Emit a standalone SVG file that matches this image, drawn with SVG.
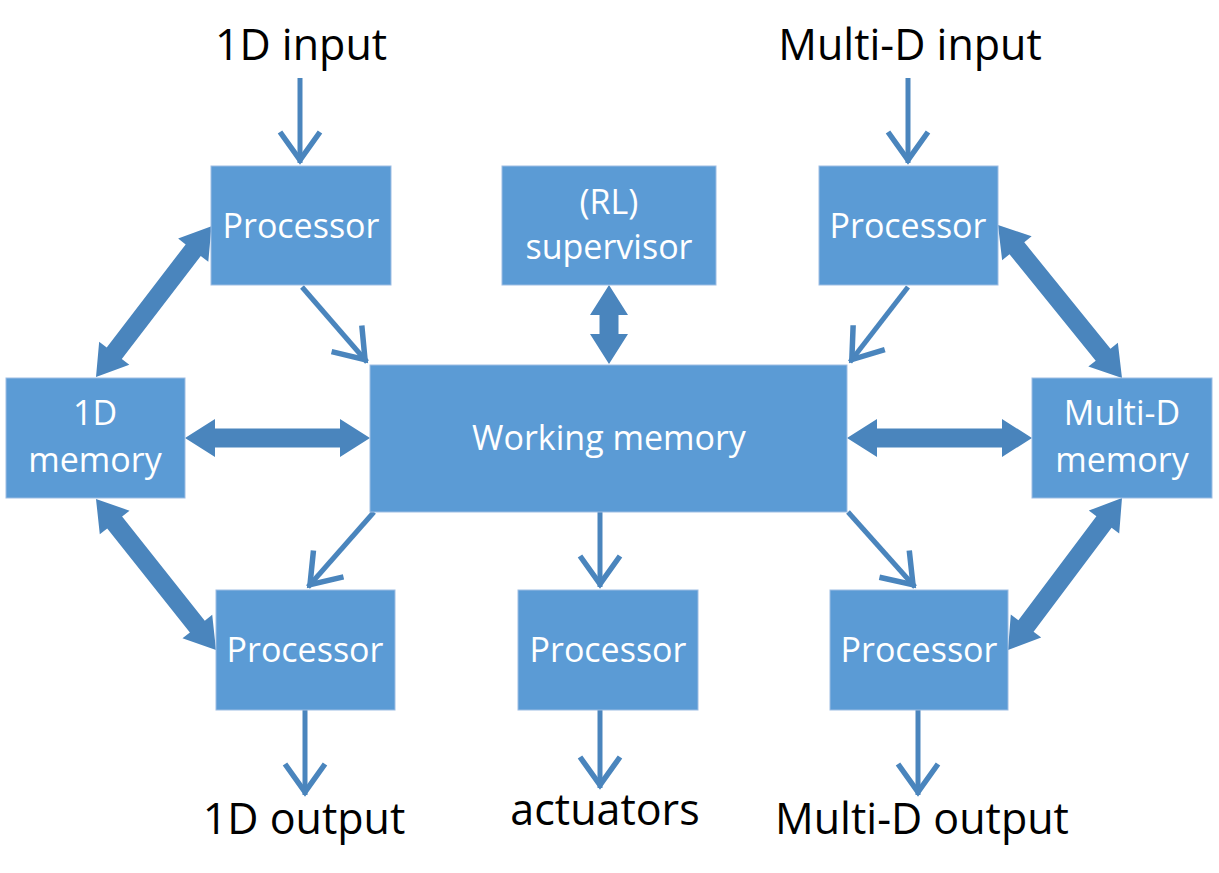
<svg xmlns="http://www.w3.org/2000/svg" width="1219" height="873" viewBox="0 0 1219 873">
<style>
.box{fill:#5B9BD5;stroke:#9DBDE3;stroke-width:1}
.bt{font-family:"Open Sans","Liberation Sans",sans-serif;font-size:34px;fill:#FFFFFF;text-anchor:middle}
.lbl{font-family:"Open Sans","Liberation Sans",sans-serif;font-size:43px;fill:#000000;text-anchor:middle}
.thin{stroke:#4A85BD;stroke-width:5;fill:none;marker-end:url(#vhead)}
.thick{fill:#4A85BD}
</style>
<defs>
<marker id="vhead" markerUnits="userSpaceOnUse" markerWidth="50" markerHeight="50" viewBox="-35 -25 45 50" refX="3" refY="0" orient="auto">
<path d="M-28,-20 L0,0 L-28,20" fill="none" stroke="#4A85BD" stroke-width="5.5" stroke-linejoin="miter"/>
</marker>
</defs>
<rect width="1219" height="873" fill="#FFFFFF"/>
<g id="connectors">
<line class="thin" x1="300" y1="78" x2="300" y2="163"/>
<line class="thin" x1="908" y1="78" x2="908" y2="163"/>
<line class="thin" x1="302" y1="287" x2="367" y2="362"/>
<line class="thin" x1="908" y1="287" x2="850" y2="362"/>
<line class="thin" x1="374" y1="512" x2="308" y2="587"/>
<line class="thin" x1="600" y1="512" x2="600" y2="587"/>
<line class="thin" x1="848" y1="512" x2="915" y2="587"/>
<line class="thin" x1="305" y1="710" x2="305" y2="795"/>
<line class="thin" x1="600" y1="710" x2="600" y2="788"/>
<line class="thin" x1="918" y1="710" x2="918" y2="795"/>
<polygon class="thick" transform="translate(96,377) rotate(-52.53)" points="0,0 30,-19 30,-9.5 159.8,-9.5 159.8,-19 189.8,0 159.8,19 159.8,9.5 30,9.5 30,19"/>
<polygon class="thick" transform="translate(96,499) rotate(51.53)" points="0,0 30,-19 30,-9.5 162.9,-9.5 162.9,-19 192.9,0 162.9,19 162.9,9.5 30,9.5 30,19"/>
<polygon class="thick" transform="translate(185,438)" points="0,0 30,-19 30,-9.5 155,-9.5 155,-19 185,0 155,19 155,9.5 30,9.5 30,19"/>
<polygon class="thick" transform="translate(847,438)" points="0,0 30,-19 30,-9.5 155,-9.5 155,-19 185,0 155,19 155,9.5 30,9.5 30,19"/>
<polygon class="thick" transform="translate(609,285) rotate(90)" points="0,0 30,-19 30,-9.5 49,-9.5 49,-19 79,0 49,19 49,9.5 30,9.5 30,19"/>
<polygon class="thick" transform="translate(998,225) rotate(50.97)" points="0,0 30,-19 30,-9.5 166.9,-9.5 166.9,-19 196.9,0 166.9,19 166.9,9.5 30,9.5 30,19"/>
<polygon class="thick" transform="translate(1122,498) rotate(126.87)" points="0,0 30,-19 30,-9.5 160,-9.5 160,-19 190,0 160,19 160,9.5 30,9.5 30,19"/>
</g>
<g id="proc-tl"><rect class="box" x="211" y="166" width="180" height="119"/><text class="bt" x="301" y="238">Processor</text></g>
<g id="supervisor"><rect class="box" x="502" y="166" width="214" height="119"/><text class="bt" x="609" y="214">(RL)</text><text class="bt" x="609" y="259">supervisor</text></g>
<g id="proc-tr"><rect class="box" x="819" y="166" width="179" height="119"/><text class="bt" x="908" y="238">Processor</text></g>
<g id="mem-1d"><rect class="box" x="6" y="378" width="179" height="120"/><text class="bt" x="95" y="425">1D</text><text class="bt" x="95" y="472">memory</text></g>
<g id="working-memory"><rect class="box" x="370" y="365" width="477" height="147"/><text class="bt" x="609" y="450">Working memory</text></g>
<g id="mem-md"><rect class="box" x="1032" y="378" width="180" height="120"/><text class="bt" x="1122" y="425">Multi-D</text><text class="bt" x="1122" y="472">memory</text></g>
<g id="proc-bl"><rect class="box" x="216" y="590" width="179" height="120"/><text class="bt" x="305" y="662">Processor</text></g>
<g id="proc-bc"><rect class="box" x="518" y="590" width="180" height="120"/><text class="bt" x="608" y="662">Processor</text></g>
<g id="proc-br"><rect class="box" x="830" y="590" width="178" height="120"/><text class="bt" x="919" y="662">Processor</text></g>
<g id="labels">
<text class="lbl" x="301" y="60">1D input</text>
<text class="lbl" x="910" y="60">Multi-D input</text>
<text class="lbl" x="304" y="834">1D output</text>
<text class="lbl" x="605" y="825">actuators</text>
<text class="lbl" x="922" y="834">Multi-D output</text>
</g>
</svg>
